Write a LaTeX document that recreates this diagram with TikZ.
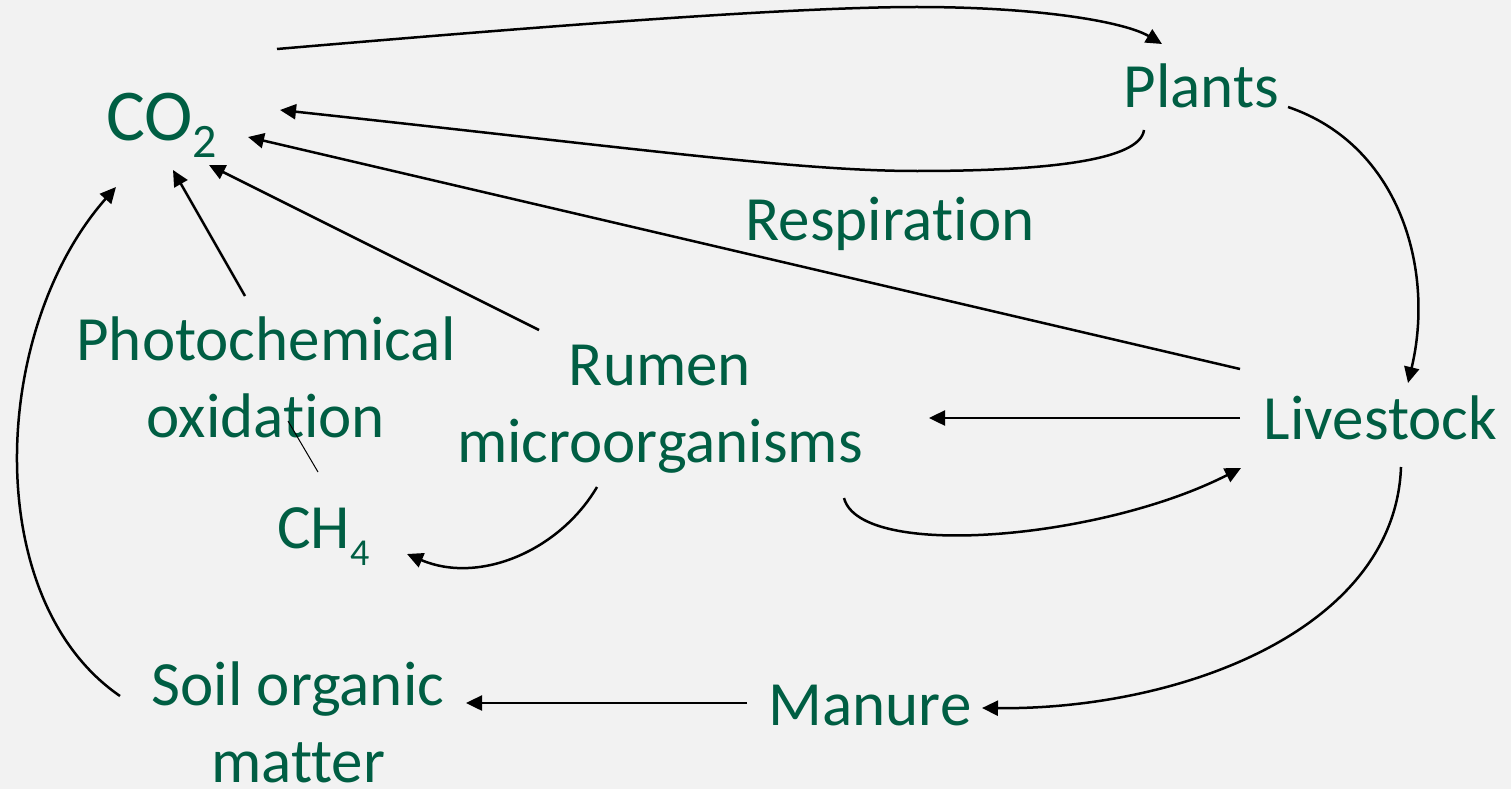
\documentclass[tikz,border=0pt]{standalone}
\usepackage{fontspec}
\setmainfont{Carlito}[Ligatures=NoCommon]
\usetikzlibrary{arrows.meta}
\definecolor{txt}{HTML}{005E43}
\definecolor{bg}{HTML}{F2F2F2}
\begin{document}
\begin{tikzpicture}[x=1pt,y=-1pt,
  lbl/.style={text=txt, inner sep=0pt, font=\fontsize{63}{77}\selectfont},
  conn/.style={line width=2.5pt, -{Triangle[length=16pt,width=15pt]}},
  thinline/.style={line width=1pt}]
\fill[bg] (0,0) rectangle (1511,789);
\useasboundingbox (0,0) rectangle (1511,789);

% labels (multi-line labels: anchor=base is the baseline of the last line)
\node[lbl, anchor=base west, font=\fontsize{73}{88}\selectfont] (co2) at (106,140) {CO\raisebox{-17pt}{\fontsize{48}{58}\selectfont 2}};
\node[lbl, anchor=base] (plants) at (1201.5,108) {Plants};
\node[lbl, anchor=base] (resp) at (890,240) {Respiration};
\node[lbl, anchor=base, align=center] (photo) at (266,437) {Photochemical\\oxidation};
\node[lbl, anchor=base, align=center] (rumen) at (660,462) {Rumen\\microorganisms};
\node[lbl, anchor=base] (live) at (1380.5,439) {Livestock};
\node[lbl, anchor=base west] (ch4) at (277,548) {CH\raisebox{-17pt}{\fontsize{38}{46}\selectfont 4}};
\node[lbl, anchor=base, align=center] (soil) at (298,782) {Soil organic\\matter};
\node[lbl, anchor=base] (manure) at (870,725) {Manure};

% connector end points
\coordinate (co2-a) at (277,49);
\coordinate (top-peak) at (917,7);
\coordinate (plants-in) at (1162,44);
\coordinate (plants-out) at (1144,130);
\coordinate (low-pt) at (917,171);
\coordinate (co2-b) at (280,110);
\coordinate (live-resp) at (1240,369);
\coordinate (co2-c) at (248,137);
\coordinate (rumen-up) at (539,330);
\coordinate (co2-d) at (209,165);
\coordinate (photo-up) at (245,296);
\coordinate (co2-e) at (173,170);
\coordinate (plants-r) at (1288,107);
\coordinate (live-in) at (1408,383);
\coordinate (live-l) at (1240,418);
\coordinate (rumen-r) at (929,418);
\coordinate (rumen-out) at (844,498);
\coordinate (live-in2) at (1241,468);
\coordinate (rumen-dn) at (597,487);
\coordinate (ch4-in) at (407,554);
\coordinate (ch4-top) at (318,472);
\coordinate (photo-dn) at (288,421);
\coordinate (live-dn) at (1401,467);
\coordinate (manure-in) at (982,708);
\coordinate (manure-l) at (747,703);
\coordinate (soil-in) at (466,703);
\coordinate (soil-l) at (120,696);
\coordinate (co2-f) at (116,187);

% connectors
\draw[conn] (co2-a) .. controls (500,30) and (780,7) .. (top-peak)
  .. controls (1040,7) and (1125,22) .. (plants-in);
\draw[conn] (plants-out) .. controls (1140,160) and (1050,171) .. (low-pt)
  .. controls (800,171) and (650,150) .. (co2-b);
\draw[conn] (live-resp) -- (co2-c);
\draw[conn] (rumen-up) -- (co2-d);
\draw[conn] (photo-up) -- (co2-e);
\draw[conn] (plants-r) .. controls (1400,145) and (1435,270) .. (live-in);
\draw[conn] (live-l) -- (rumen-r);
\draw[conn] (rumen-out) .. controls (860,560) and (1100,540) .. (live-in2);
\draw[conn] (rumen-dn) .. controls (560,550) and (480,585) .. (ch4-in);
\draw[thinline] (ch4-top) -- (photo-dn);
\draw[conn] (live-dn) .. controls (1395,630) and (1180,710) .. (manure-in);
\draw[conn] (manure-l) -- (soil-in);
\draw[conn] (soil-l) .. controls (-20,600) and (-10,330) .. (co2-f);
\end{tikzpicture}
\end{document}
